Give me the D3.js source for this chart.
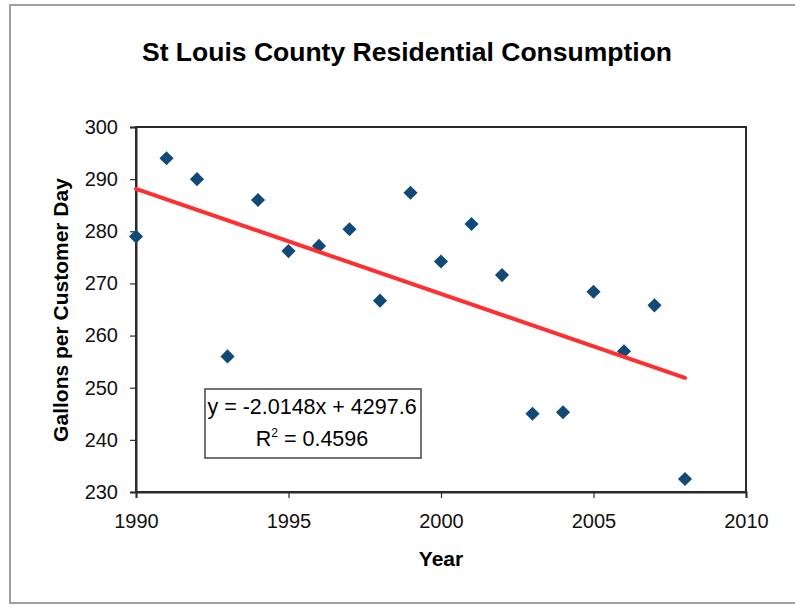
<!DOCTYPE html>
<html>
<head>
<meta charset="utf-8">
<script src="https://cdn.jsdelivr.net/npm/d3@7"></script>
<style>
  body { margin: 0; background: #fff; }
  svg { display: block; font-family: "Liberation Sans", Arial, sans-serif; }
</style>
</head>
<body>
<div id="chart"></div>
<script>
// data
const years = [1990, 1991, 1992, 1993, 1994, 1995, 1996, 1997, 1998, 1999,
               2000, 2001, 2002, 2003, 2004, 2005, 2006, 2007, 2008];
const gallons = [279.0, 294.0, 290.0, 256.0, 286.0, 276.2, 277.2, 280.4, 266.7, 287.4,
                 274.2, 281.4, 271.6, 245.0, 245.3, 268.4, 257.0, 265.8, 232.5];
const xTicks = [1990, 1995, 2000, 2005, 2010];
const yTicks = [230, 240, 250, 260, 270, 280, 290, 300];
const trendSlope = -2.0148;
const trendIntercept = 4297.6;
const trendText = ["y = -2.0148x + 4297.6", "R", "2", " = 0.4596"];

(function(){
  const svgWidth = 795, svgHeight = 607;
  const plot = { left: 136, top: 127, right: 746, bottom: 492 };

  const svg = d3.select("#chart").append("svg")
    .attr("width", svgWidth).attr("height", svgHeight);

  // outer chart-area border (runs off the right side like the scan)
  svg.append("rect")
    .attr("x", 10).attr("y", 5).attr("width", 800).attr("height", 598)
    .attr("fill", "#fff").attr("stroke", "#a0a0a0").attr("stroke-width", 2);

  const x = d3.scaleLinear().domain([1990, 2010]).range([plot.left, plot.right]);
  const y = d3.scaleLinear().domain([230, 300]).range([plot.bottom, plot.top]);

  // title
  svg.append("text")
    .attr("x", 407).attr("y", 61)
    .attr("text-anchor", "middle")
    .attr("font-size", 26.5).attr("font-weight", "bold")
    .text("St Louis County Residential Consumption");

  // plot frame
  svg.append("rect")
    .attr("x", plot.left).attr("y", plot.top)
    .attr("width", plot.right - plot.left).attr("height", plot.bottom - plot.top)
    .attr("fill", "none").attr("stroke", "#2a2a2a").attr("stroke-width", 2);

  // axes
  const xAxis = svg.append("g")
    .attr("transform", `translate(0, ${plot.bottom})`)
    .call(d3.axisBottom(x).tickValues(xTicks).tickFormat(d3.format("d")).tickSize(6).tickPadding(16));
  const yAxis = svg.append("g")
    .attr("transform", `translate(${plot.left}, 0)`)
    .call(d3.axisLeft(y).tickValues(yTicks).tickSize(6).tickPadding(12));

  [xAxis, yAxis].forEach(function(a){
    a.select(".domain").attr("stroke", "#2a2a2a").attr("stroke-width", 2);
    a.selectAll(".tick line").attr("stroke", "#2a2a2a").attr("stroke-width", 1.2);
    a.selectAll(".tick text")
      .attr("font-size", 20).attr("fill", "#111")
      .attr("font-family", "\"Liberation Sans\", Arial, sans-serif");
  });

  // axis titles
  svg.append("text")
    .attr("x", 441).attr("y", 566)
    .attr("text-anchor", "middle")
    .attr("font-size", 21).attr("font-weight", "bold")
    .text("Year");

  svg.append("text")
    .attr("transform", "translate(68, 310) rotate(-90)")
    .attr("text-anchor", "middle")
    .attr("font-size", 21).attr("font-weight", "bold")
    .text("Gallons per Customer Day");

  // diamond markers
  const diamond = d3.symbol().type(d3.symbolSquare).size(100);
  svg.append("g").selectAll("path")
    .data(years)
    .join("path")
    .attr("d", diamond)
    .attr("transform", (d, i) => `translate(${x(d)}, ${y(gallons[i])}) rotate(45)`)
    .attr("fill", "#114a77");

  // linear trendline, drawn over the markers as Excel does
  const trendYears = [d3.min(years), d3.max(years)];
  svg.append("path")
    .datum(trendYears)
    .attr("d", d3.line().x(d => x(d)).y(d => y(trendSlope * d + trendIntercept)))
    .attr("fill", "none")
    .attr("stroke", "#ff2f2f")
    .attr("stroke-width", 4)
    .attr("stroke-linecap", "round");

  // equation box
  svg.append("rect")
    .attr("x", 205).attr("y", 389).attr("width", 216).attr("height", 69)
    .attr("fill", "#fff").attr("stroke", "#444").attr("stroke-width", 1.5);

  svg.append("text")
    .attr("x", 312).attr("y", 414)
    .attr("text-anchor", "middle")
    .attr("font-size", 21.5)
    .text(trendText[0]);

  const r2 = svg.append("text")
    .attr("x", 312).attr("y", 446)
    .attr("text-anchor", "middle")
    .attr("font-size", 21.5);
  r2.append("tspan").text(trendText[1]);
  r2.append("tspan").attr("dy", -9).attr("font-size", 12).text(trendText[2]);
  r2.append("tspan").attr("dy", 9).text(trendText[3]);
})();
</script>
</body>
</html>
